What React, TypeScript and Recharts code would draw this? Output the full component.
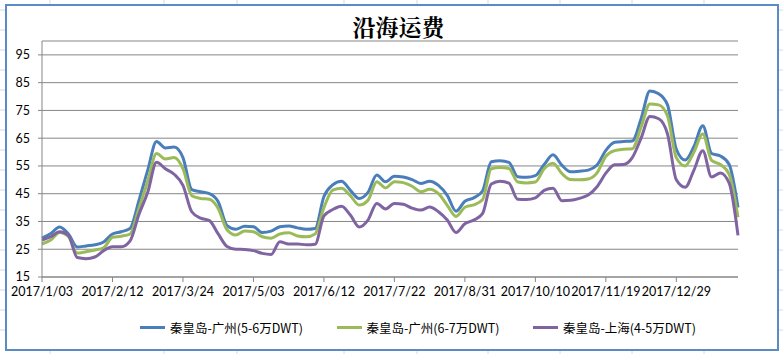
import { CartesianGrid, Legend, Line, LineChart, XAxis, YAxis } from "recharts";

// samples every 5 days starting 2017/1/03
const startDate = new Date(2017, 0, 3);
const stepDays = 5;

const seriesNames = ["秦皇岛-广州(5-6万DWT)", "秦皇岛-广州(6-7万DWT)", "秦皇岛-上海(4-5万DWT)"];
const seriesColors = ["#4a7ebb", "#9bbb59", "#8064a2"];

const gz56 = [
  29, 30.7, 33, 30.5, 25.8, 26.2, 26.6, 27.6, 30.5, 31.3,
  32.5, 42.5, 53.5, 63.8, 61.5, 61.8, 58, 46.5, 45.7, 45,
  42.1, 33.5, 32.2, 33.3, 33.1, 31, 31.5, 33.1, 33.4, 32.7,
  32.2, 32.5, 44, 48.2, 49.5, 46.2, 43.3, 45.5, 51.7, 49.3,
  51.3, 51, 50.1, 48.7, 49.5, 48, 44.4, 38.7, 42.3, 43.5,
  46, 56.5, 56.9, 56.3, 51.1, 50.9, 51.5, 55.5, 59, 55.3,
  52.9, 53.1, 53.5, 55.3, 60.6, 63.5, 63.8, 64, 72, 82,
  81, 77, 61, 57.1, 62, 69.5, 59.5, 58.6, 55.5, 40,
];
const gz67 = [
  26.9, 28.3, 31, 29.5, 23.6, 24.1, 24.7, 25.5, 29.3, 29.7,
  30.5, 39.7, 49.5, 59.5, 57.5, 58, 54, 44.3, 43.3, 43,
  39.7, 32, 30.1, 31.6, 31.3, 29.5, 29, 30.5, 30.9, 29.8,
  29.5, 30.5, 40, 46.3, 47, 44.3, 40.9, 42.6, 49.3, 47.1,
  49.3, 49, 47.7, 45.7, 46.6, 45, 40.8, 36.8, 40.1, 41,
  42.8, 54, 54.4, 54.1, 49.2, 48.9, 49.2, 54, 56, 52.3,
  50.1, 50, 50.3, 52.5, 58.5, 60.5, 61, 61.2, 69, 77.3,
  77, 73, 58, 55, 60, 66.5, 57, 55.5, 52, 36.5,
];
const sh45 = [
  28.3, 29.5, 31.3, 30, 22, 21.6, 22.2, 24.5, 25.9, 25.9,
  28, 37.5, 45.5, 56.3, 54, 52, 48, 38.5, 36.2, 35.3,
  30.5, 26, 25, 24.9, 24.5, 23.5, 23.1, 27.7, 26.9, 26.9,
  26.6, 26.8, 37, 39.3, 40.5, 37.3, 33, 35.5, 41.5, 39.5,
  41.5, 41.2, 39.8, 39.1, 40.2, 38.5, 35.5, 31, 34.2, 35.5,
  37.8, 48.5, 49.5, 48.8, 43, 42.9, 43.5, 46.2, 47, 42.5,
  42.6, 43.3, 44.5, 47.5, 52.4, 55.4, 55.5, 58, 65, 72.8,
  72, 66.5, 50, 47.3, 53.5, 60.5, 51, 52.5, 48.8, 30,
];
const yTicks = [15, 25, 35, 45, 55, 65, 75, 85, 95];

function dateLabel(i: number) {
  const d = new Date(startDate);
  d.setDate(d.getDate() + i * stepDays);
  return `${d.getFullYear()}/${d.getMonth() + 1}/${String(d.getDate()).padStart(2, "0")}`;
}

const data = gz56.map((v, i) => ({
  date: dateLabel(i),
  gz56: v,
  gz67: gz67[i],
  sh45: sh45[i],
}));

const keys = ["gz56", "gz67", "sh45"];
const cjk = "'Noto Sans CJK SC', 'Noto Sans', sans-serif";
const axisGray = "#868686";

function LegendContent() {
  return (
    <div style={{ position: "relative", width: 783, height: 20 }}>
      {seriesNames.map((name, i) => (
        <div
          key={name}
          style={{ position: "absolute", left: 140 + i * 196.5, top: 0, height: 20, display: "flex", alignItems: "center" }}
        >
          <span style={{ display: "inline-block", width: 25, height: 3, background: seriesColors[i], marginRight: 5 }} />
          <span style={{ fontFamily: cjk, fontSize: 12.5, color: "#000", whiteSpace: "nowrap" }}>{name}</span>
        </div>
      ))}
    </div>
  );
}

// spreadsheet cell lines peeking out around the chart frame
const sheetCols = [50, 164, 237, 344, 417, 488, 560, 632, 704];
const sheetRows = [10, 30, 50, 70, 90, 110, 130, 150, 170, 190, 210, 230, 250, 270, 290, 310, 330];

export default function App() {
  return (
    <div style={{ position: "absolute", left: 0, top: 0, width: 783, height: 354, background: "#fff", overflow: "hidden" }}>
      <svg width={783} height={354} style={{ position: "absolute", left: 0, top: 0 }}>
        {sheetCols.map((x) => (
          <line key={"c" + x} x1={x} x2={x} y1={0} y2={354} stroke="#d4dbe8" />
        ))}
        {sheetRows.map((y) => (
          <line key={"r" + y} x1={0} x2={783} y1={y} y2={y} stroke="#d4dbe8" />
        ))}
      </svg>
      <div
        style={{
          position: "absolute",
          left: 5,
          top: 4,
          width: 770,
          height: 343,
          border: "2px solid #5b8bc6",
          background: "#fff",
        }}
      />
      <div
        style={{
          position: "absolute",
          left: 0,
          top: 12,
          width: 797,
          textAlign: "center",
          fontFamily: "'Noto Serif CJK SC', serif",
          fontSize: 23,
          fontWeight: "bold",
          lineHeight: "30px",
          color: "#000",
        }}
      >
        沿海运费
      </div>
      <div style={{ position: "absolute", left: 0, top: 0 }}>
        <LineChart width={783} height={354} data={data} margin={{ top: 41, right: 45, left: 0, bottom: 27 }}>
          <CartesianGrid vertical={false} stroke={axisGray} strokeDasharray="" />
          <XAxis
            dataKey="date"
            interval={7}
            axisLine={{ stroke: axisGray }}
            tickLine={{ stroke: axisGray }}
            tickSize={5}
            tickMargin={5}
            height={30}
            tick={{ fontFamily: "Lato, sans-serif", fontSize: 12.5, fill: "#000" }}
          />
          <YAxis
            domain={[15, 100]}
            ticks={yTicks}
            width={42}
            axisLine={{ stroke: axisGray }}
            tickLine={{ stroke: axisGray }}
            tickSize={4}
            tickMargin={8}
            tick={{ fontFamily: "Lato, sans-serif", fontSize: 12.5, fill: "#000" }}
          />
          <Legend
            verticalAlign="bottom"
            height={20}
            content={<LegendContent />}
            wrapperStyle={{ left: 0, bottom: 17, width: 783 }}
          />
          {keys.map((k, i) => (
            <Line
              key={k}
              dataKey={k}
              name={seriesNames[i]}
              stroke={seriesColors[i]}
              strokeWidth={3}
              dot={false}
              type="monotone"
              isAnimationActive={false}
            />
          ))}
        </LineChart>
      </div>
    </div>
  );
}
